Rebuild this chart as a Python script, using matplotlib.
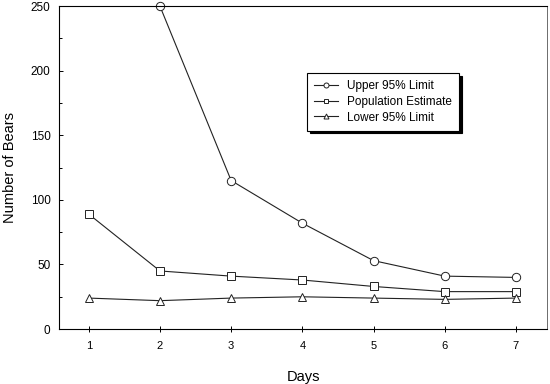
import numpy as np
import matplotlib.pyplot as plt

plt.rcParams['font.family'] = ['Liberation Sans', 'DejaVu Sans']

days = [1, 2, 3, 4, 5, 6, 7]
upper = [np.nan, 250, 115, 82, 53, 41, 40]
estimate = [89, 45, 41, 38, 33, 29, 29]
lower = [24, 22, 24, 25, 24, 23, 24]

fig = plt.figure(figsize=(5.5, 3.84), dpi=100)
ax = fig.add_axes([0.107, 0.143, 0.888, 0.841])

style = dict(color='#222222', lw=0.8, markerfacecolor='white',
             markeredgecolor='#222222', markeredgewidth=0.7, markersize=6,
             clip_on=False)
ax.plot(days, upper, marker='o', label='Upper 95% Limit', **style)
ax.plot(days, estimate, marker='s', label='Population Estimate', **style)
ax.plot(days, lower, marker='^', label='Lower 95% Limit', **style)

ax.set_xlim(0.58, 7.44)
ax.set_ylim(0, 250)
ax.set_xticks(days)
ax.set_yticks([0, 50, 100, 150, 200, 250])
ax.set_yticks(np.arange(0, 251, 25), minor=True)
ax.tick_params(axis='x', direction='inout', length=5, width=0.7, labelsize=8, pad=6)
ax.tick_params(axis='y', which='both', direction='in', length=3, width=0.7, labelsize=8.5, pad=6)
ax.tick_params(axis='y', which='minor', length=2)
for s in ax.spines.values():
    s.set_linewidth(0.8)
ax.spines['right'].set_linewidth(0.6)
ax.spines['right'].set_color('#555555')

ax.set_xlabel('Days', fontsize=10.5, labelpad=14)
ax.set_ylabel('Number of Bears', fontsize=10.5, labelpad=10)

leg = ax.legend(loc='upper left', bbox_to_anchor=(0.496, 0.81), fontsize=8.5,
                frameon=True, fancybox=False, shadow={'color': 'black', 'alpha': 1},
                edgecolor='black', handlelength=2.0, borderpad=0.6,
                labelspacing=0.3, markerscale=0.6)
leg.get_frame().set_linewidth(0.8)

fig.savefig('out.png', dpi=100)
